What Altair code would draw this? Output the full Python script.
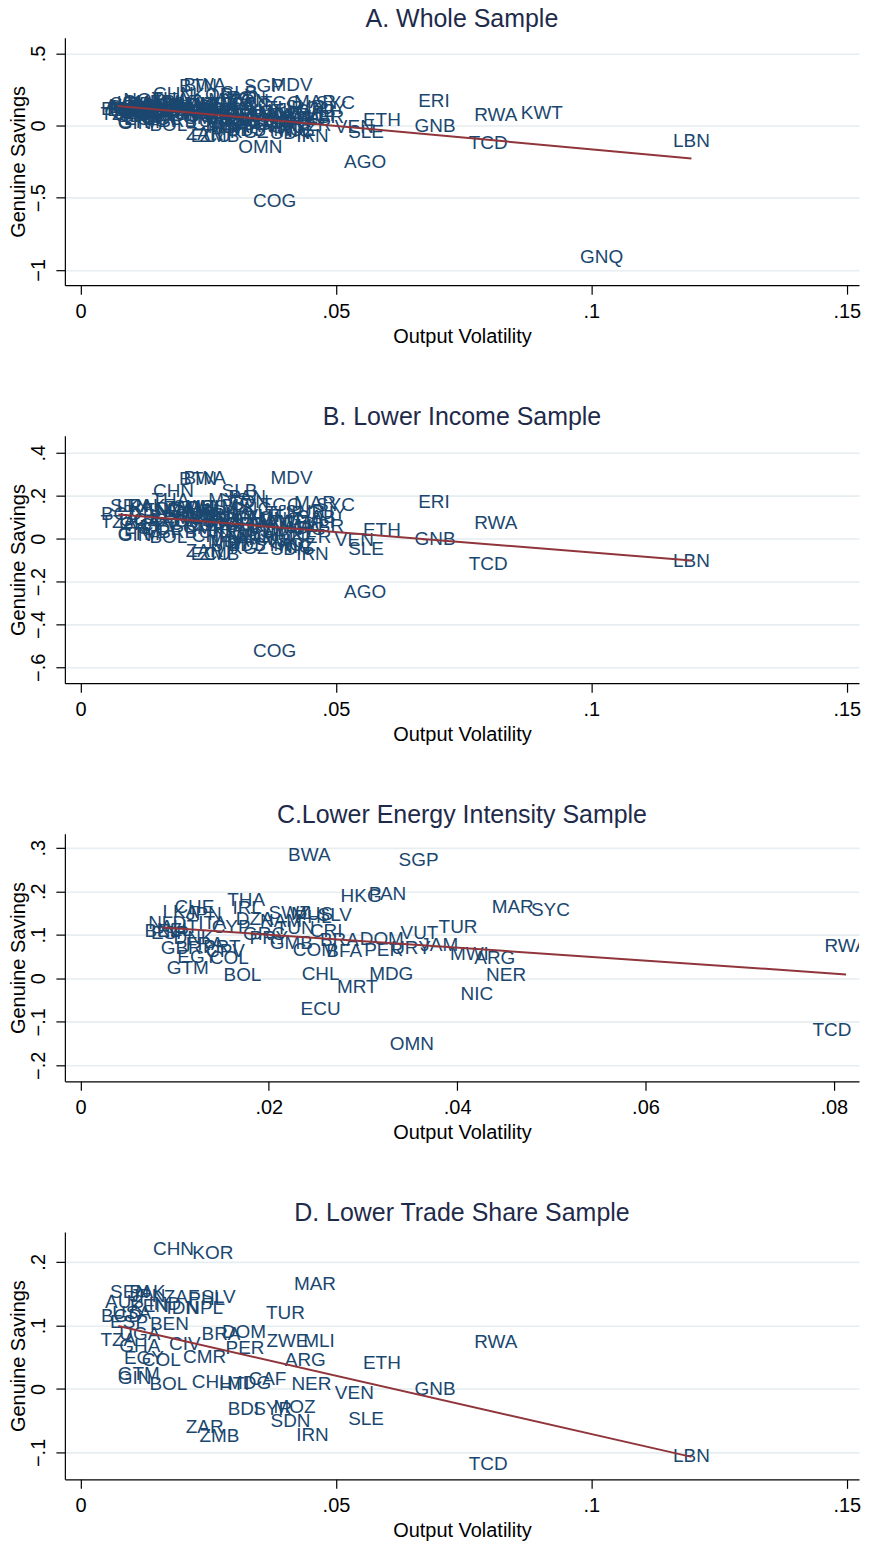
import altair as alt
import pandas as pd

# ---- data ----
codes = ["BWA","BTN","SGP","MDV","CHN","KOR","SLB","HKG","PAN","THA",
         "MAR","SYC","ERI","TGO","CHE","IRL","LKA","SEN","PAK","JPN",
         "SWZ","MUS","SLV","ZAF","PHL","DZA","AUS","IND","NAM","KEN",
         "IDN","NPL","ITA","NLD","USA","TUR","AUT","CYP","BGD","TUN",
         "NZL","BEL","CRI","ESP","VUT","BEN","GRC","PRY","DNK","DOM",
         "KWT","BRA","UGA","GMB","FRA","TZA","JAM","MLI","ZWE","RWA",
         "PRT","CIV","URY","GBR","GHA","PER","COM","BFA","CPV","MWI",
         "CMR","COL","EGY","ARG","ETH","GTM","GIN","CAF","CHL","MDG",
         "HTI","BOL","NER","GNB","VEN","MRT","BDI","SYR","MOZ","NIC",
         "SLE","SDN","ZAR","ECU","IRN","ZMB","LBN","TCD","OMN","AGO",
         "COG","GNQ","PNG","LSO","NGA","YEM","GAB","HND","KHM","LAO",
         "MNG","FJI","TTO","GUY","SUR","TJK","KGZ","MDA","UKR","ARM",
         "BLZ","LBR","MYS","MEX","JOR","BRB","TON","CAN","DEU","FIN",
         "ISL","ISR","SWE","NOR","LUX","SAU","BHR","MLT"]

vol = [0.0243,0.0230,0.0359,0.0413,0.0182,0.0259,0.0311,0.0298,0.0326,0.0176,
       0.0459,0.0499,0.0692,0.0393,0.0121,0.0177,0.0106,0.0096,0.0131,0.0131,
       0.0222,0.0246,0.0270,0.0198,0.0247,0.0185,0.0086,0.0165,0.0213,0.0135,
       0.0200,0.0243,0.0140,0.0092,0.0100,0.0401,0.0105,0.0160,0.0080,0.0228,
       0.0100,0.0087,0.0261,0.0095,0.0360,0.0174,0.0195,0.0200,0.0120,0.0320,
       0.0903,0.0275,0.0116,0.0224,0.0132,0.0074,0.0381,0.0467,0.0405,0.0813,
       0.0150,0.0204,0.0351,0.0107,0.0116,0.0322,0.0249,0.0280,0.0154,0.0413,
       0.0243,0.0158,0.0124,0.0440,0.0590,0.0114,0.0106,0.0366,0.0255,0.0330,
       0.0301,0.0172,0.0452,0.0694,0.0536,0.0294,0.0319,0.0376,0.0419,0.0421,
       0.0559,0.0411,0.0243,0.0255,0.0454,0.0272,0.1196,0.0798,0.0352,0.0557,
       0.0380,0.1020,0.0335,0.0300,0.0430,0.0370,0.0460,0.0310,0.0285,0.0340,
       0.0390,0.0355,0.0415,0.0480,0.0440,0.0395,0.0330,0.0290,0.0270,0.0345,
       0.0310,0.0480,0.0290,0.0225,0.0300,0.0190,0.0330,0.0110,0.0095,0.0150,
       0.0190,0.0140,0.0105,0.0125,0.0160,0.0290,0.0270,0.0200]

gs = [0.284,0.276,0.273,0.284,0.220,0.214,0.223,0.188,0.193,0.181,
      0.165,0.158,0.171,0.158,0.165,0.161,0.153,0.152,0.152,0.147,
      0.149,0.147,0.145,0.144,0.141,0.136,0.136,0.134,0.131,0.131,
      0.128,0.128,0.128,0.126,0.120,0.119,0.118,0.118,0.115,0.115,
      0.112,0.108,0.108,0.105,0.103,0.102,0.101,0.093,0.092,0.090,
      0.088,0.087,0.086,0.080,0.078,0.077,0.076,0.075,0.075,0.074,
      0.073,0.070,0.069,0.069,0.068,0.064,0.064,0.062,0.062,0.055,
      0.050,0.046,0.048,0.046,0.041,0.023,0.017,0.016,0.011,0.009,
      0.008,0.007,0.007,0.000,-0.007,-0.021,-0.031,-0.031,-0.028,-0.037,
      -0.047,-0.050,-0.060,-0.071,-0.072,-0.074,-0.105,-0.118,-0.150,-0.251,
      -0.523,-0.910,0.140,0.120,0.050,0.030,0.100,0.040,0.110,0.095,
      0.090,0.035,0.020,0.120,0.125,-0.010,-0.045,-0.012,0.030,0.000,
      0.150,0.060,0.180,0.095,0.070,0.030,0.170,0.105,0.125,0.100,
      0.110,0.060,0.085,0.180,0.150,0.020,0.110,0.160]

in_lower_income = [1,1,0,1,1,0,1,0,1,1, 1,1,1,1,0,0,1,1,1,0,
                   1,1,1,1,1,1,0,1,1,1, 1,1,0,0,0,1,0,0,1,1,
                   0,0,1,0,1,1,0,1,0,1, 0,1,1,1,0,1,1,1,1,1,
                   0,1,1,0,1,1,1,1,1,1, 1,1,1,1,1,1,1,1,1,1,
                   1,1,1,1,1,1,1,1,1,1, 1,1,1,1,1,1,1,1,0,1,
                   1,0,1,1,1,1,1,1,1,1, 1,1,1,1,1,1,1,1,1,1,
                   1,1,1,1,1,1,1,0,0,0, 0,0,0,0,0,0,0,0]

in_low_energy = [1,0,1,0,0,0,0,1,1,1, 1,1,0,0,1,1,1,0,0,1,
                 1,1,1,0,1,1,0,0,1,0, 0,0,1,1,0,1,1,1,0,1,
                 1,1,1,1,1,0,1,1,1,1, 0,1,0,1,1,0,1,0,0,1,
                 1,0,1,1,0,1,1,1,1,1, 0,1,1,1,0,1,0,0,1,1,
                 0,1,1,0,0,1,0,0,0,1, 0,0,0,1,0,0,0,1,1,0,
                 0,0,0,0,0,0,0,0,0,0, 0,0,0,0,0,0,0,0,0,0,
                 0,0,0,0,0,0,0,0,0,0, 0,0,0,0,0,0,0,0]

in_low_trade = [0,0,0,0,1,1,0,0,0,0, 1,0,0,0,0,0,0,1,1,1,
                0,0,1,1,1,0,1,1,0,1, 1,1,0,0,1,1,0,0,1,0,
                0,0,0,1,0,1,0,0,0,1, 0,1,1,0,0,1,0,1,1,1,
                0,1,0,0,1,1,0,0,0,0, 1,1,1,1,1,1,1,1,1,1,
                1,1,1,1,1,0,1,1,1,0, 1,1,1,0,1,1,1,1,0,0,
                0,0,0,0,0,0,0,0,0,0, 0,0,0,0,0,0,0,0,0,0,
                0,0,0,0,0,0,0,0,0,0, 0,0,0,0,0,0,0,0]

# fitted-line end points
fit_a_x, fit_a_y = [0.0073, 0.1196], [0.136, -0.228]
fit_b_x, fit_b_y = [0.0074, 0.1196], [0.112, -0.102]
fit_c_x, fit_c_y = [0.0087, 0.0813], [0.117, 0.009]
fit_d_x, fit_d_y = [0.0074, 0.1196], [0.099, -0.107]

titles = ["A. Whole Sample", "B. Lower Income Sample",
          "C.Lower Energy Intensity Sample", "D. Lower Trade Share Sample"]
x_ticks_wide = [0, 0.05, 0.1, 0.15]
x_ticks_c = [0, 0.02, 0.04, 0.06, 0.08]
y_ticks_a = [-1, -0.5, 0, 0.5]
y_ticks_b = [-0.6, -0.4, -0.2, 0, 0.2, 0.4]
y_ticks_c = [-0.2, -0.1, 0, 0.1, 0.2, 0.3]
y_ticks_d = [-0.1, 0, 0.1, 0.2]

df = pd.DataFrame({"code": codes, "vol": vol, "gs": gs,
                   "B": in_lower_income, "C": in_low_energy, "D": in_low_trade})

FONT = "Liberation Sans"
LABEL_COLOR = "#1a476f"
FIT_COLOR = "#90353b"
LE = "replace(format(datum.value, '~g'), '0.', '.')"

W, H = 796, 248


def panel(data, fx, fy, title, xdom, xticks, ydom, yticks):
    xenc = alt.X("vol:Q",
                 scale=alt.Scale(domain=xdom, nice=False, zero=False),
                 axis=alt.Axis(values=xticks, title="Output Volatility", grid=False,
                               labelExpr=LE, labelPadding=7, titlePadding=5))
    yenc = alt.Y("gs:Q",
                 scale=alt.Scale(domain=ydom, nice=False, zero=False),
                 axis=alt.Axis(values=yticks, title="Genuine Savings", grid=True,
                               labelExpr=LE, labelAngle=270, labelAlign="center",
                               labelBaseline="bottom", labelPadding=7,
                               titlePadding=0))
    txt = alt.Chart(data).mark_text(font=FONT, fontSize=19, color=LABEL_COLOR,
                                    clip=True).encode(
        x=xenc, y=yenc, text="code:N")
    fit = alt.Chart(pd.DataFrame({"vol": fx, "gs": fy})).mark_line(
        color=FIT_COLOR, strokeWidth=2).encode(x=xenc, y=yenc)
    return alt.layer(txt, fit).properties(
        width=W, height=H,
        title=alt.TitleParams(title, anchor="middle", fontSize=25, font=FONT,
                              fontWeight="normal", color="#1e2a4a", offset=6))


XW = [-0.00307, 0.1524]
pa = panel(df, fit_a_x, fit_a_y, titles[0], XW, x_ticks_wide,
           [-1.106, 0.6086], y_ticks_a)
pb = panel(df[df.B == 1], fit_b_x, fit_b_y, titles[1], XW, x_ticks_wide,
           [-0.674, 0.479], y_ticks_b)
pc = panel(df[df.C == 1], fit_c_x, fit_c_y, titles[2], [-0.00166, 0.08268], x_ticks_c,
           [-0.2367, 0.332], y_ticks_c)
pd_ = panel(df[df.D == 1], fit_d_x, fit_d_y, titles[3], XW, x_ticks_wide,
            [-0.1424, 0.2471], y_ticks_d)

chart = alt.vconcat(pa, pb, pc, pd_, spacing=59).properties(
    padding={"left": 0, "top": -3, "right": 0, "bottom": 0}
).configure_view(stroke=None).configure_axis(
    labelFont=FONT, titleFont=FONT, labelFontSize=20, titleFontSize=20,
    titleFontWeight="normal", labelColor="#000", titleColor="#000",
    domainColor="#000", tickColor="#000", domainWidth=1.2, tickWidth=1.2,
    tickSize=9, gridColor="#e6eef1", gridWidth=1.6
)

chart.save("out.html", embed_options={"renderer": "svg", "actions": False})
